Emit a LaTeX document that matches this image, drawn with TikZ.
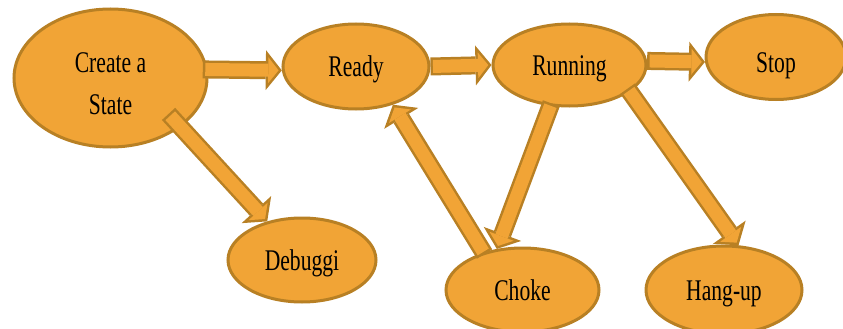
\documentclass[tikz,border=0pt]{standalone}
\usepackage{fontspec}
\newfontfamily\lblfont[FakeStretch=0.72]{Liberation Serif}
\usetikzlibrary{arrows.meta,shapes.geometric}
\definecolor{nodefill}{RGB}{241,164,54}
\definecolor{nodeline}{RGB}{184,128,36}

\begin{document}
\begin{tikzpicture}[x=1pt,y=-1pt,
    state node/.style={ellipse,draw=nodeline,fill=nodefill,line width=3pt,inner sep=0pt,
      text height=20pt,text depth=0pt,font=\lblfont\fontsize{30}{42}\selectfont},
    fat arrow/.style={draw=nodefill,line width=13pt,shorten <={#1+2.5pt},shorten >=3.2pt,
      -{Triangle[length=10.3pt,width=25.8pt,line width=0pt]},
      preaction={draw=nodeline,line width=18pt,shorten <={#1},shorten >=0pt,
        -{Triangle[length=16pt,width=40pt,line width=0pt]}}},
    fat arrow/.default=0pt]

  \useasboundingbox (0,0) rectangle (843,329);

  \node[state node,minimum width=193pt,minimum height=138pt,align=center,text height=72pt]
    (create) at (110.5,78) {Create a\\State};
  \node[state node,minimum width=146pt,minimum height=85pt] (ready) at (356,66.5) {Ready};
  \node[state node,minimum width=153pt,minimum height=82pt] (running) at (569.5,65) {Running};
  \node[state node,minimum width=140pt,minimum height=85pt,text height=31pt] (stop) at (776,57) {Stop};
  \node[state node,minimum width=148pt,minimum height=84pt] (debug) at (302,260) {Debuggi};
  \node[state node,minimum width=153pt,minimum height=84pt] (choke) at (522.5,290) {Choke};
  \node[state node,minimum width=156pt,minimum height=88pt] (hangup) at (724,290) {Hang-up};

  \path (create.5) edge[fat arrow=-5pt] (ready.183)
        (create.-35) edge[fat arrow=-18pt] (debug.132)
        (ready.east) edge[fat arrow] (running.west)
        (running.3) edge[fat arrow] (stop.184)
        (running.-115) edge[fat arrow=-3pt] (choke.122)
        (running.-24) edge[fat arrow=-4pt] (hangup.72)
        (choke.136) edge[fat arrow=-2pt] (ready.-46);
\end{tikzpicture}
\end{document}
